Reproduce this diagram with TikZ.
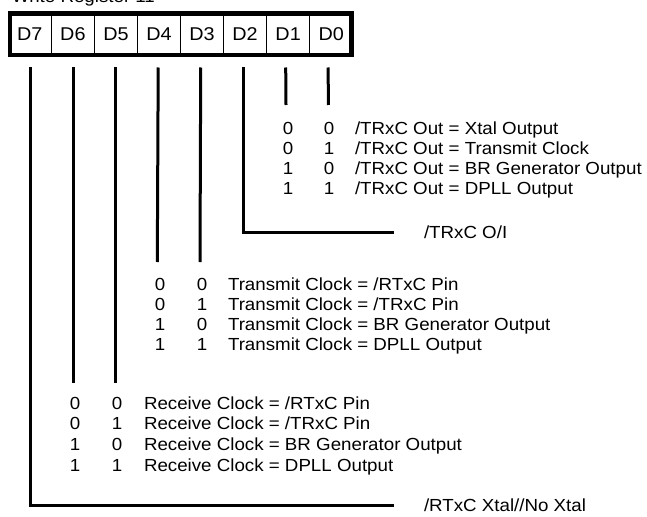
\documentclass[tikz,border=0pt]{standalone}
\usepackage{fontspec}
\setmainfont{Liberation Sans}[FakeStretch=1.07]
\begin{document}
\begin{tikzpicture}[x=1pt,y=-1pt,
  font=\fontsize{17.5}{20}\selectfont,
  every node/.style={inner sep=0pt, outer sep=0pt},
  cell/.style={draw, line width=1.6pt, minimum width=43.05pt, minimum height=45pt, font=\fontsize{18.5}{20}\selectfont},
  frame/.style={line width=4pt},
  lead/.style={line width=3pt},
  bit/.style={anchor=base},
  desc/.style={anchor=base west},
  lbl/.style={anchor=west}]
\useasboundingbox (0,0) rectangle (647,516);
\node[anchor=base west] (title) at (12,2.5) {Write Register 11};
% register cells
\foreach \n [count=\i from 0] in {7,6,5,4,3,2,1,0}
  \node[cell] (d\n) at ({29.825+43.05*\i},34.2) {D\n};
\draw[frame] ([shift={(2,2)}]d7.north west) rectangle ([shift={(-2,-2)}]d0.south east);
% tick tops
\foreach \n [count=\i from 0] in {7,6,5,4,3,2,1,0}
  \coordinate (top\n) at ({30.7+42.5*\i},67.5);
% ---- D1 D0 table
\coordinate (end1) at (286,105);
\coordinate (end0) at (328.3,105);
\draw[lead] (top1) -- (end1);
\draw[lead] (top0) -- (end0);
\node[bit] (a1) at (288,134.5) {0}; \node[bit] (b1) at (329,134.5) {0}; \node[desc] (c1) at (355,134.5) {/TRxC Out = Xtal Output};
\node[bit] (a2) at (288,154.5) {0}; \node[bit] (b2) at (329,154.5) {1}; \node[desc] (c2) at (355,154.5) {/TRxC Out = Transmit Clock};
\node[bit] (a3) at (288,174.5) {1}; \node[bit] (b3) at (329,174.5) {0}; \node[desc] (c3) at (355,174.5) {/TRxC Out = BR Generator Output};
\node[bit] (a4) at (288,194.5) {1}; \node[bit] (b4) at (329,194.5) {1}; \node[desc] (c4) at (355,194.5) {/TRxC Out = DPLL Output};
% ---- D2
\node[lbl] (oi) at (424,232.5) {/TRxC O/I};
\draw[lead] (top2) |- ([xshift=-30pt]oi.west);
% ---- D4 D3 table
\coordinate (end4) at (157.3,262);
\coordinate (end3) at (200,262);
\draw[lead] (top4) -- (end4);
\draw[lead] (top3) -- (end3);
\node[bit] (e1) at (160,290) {0}; \node[bit] (f1) at (202,290) {0}; \node[desc] (g1) at (228,290) {Transmit Clock = /RTxC Pin};
\node[bit] (e2) at (160,310) {0}; \node[bit] (f2) at (202,310) {1}; \node[desc] (g2) at (228,310) {Transmit Clock = /TRxC Pin};
\node[bit] (e3) at (160,330) {1}; \node[bit] (f3) at (202,330) {0}; \node[desc] (g3) at (228,330) {Transmit Clock = BR Generator Output};
\node[bit] (e4) at (160,350) {1}; \node[bit] (f4) at (202,350) {1}; \node[desc] (g4) at (228,350) {Transmit Clock = DPLL Output};
% ---- D6 D5 table
\coordinate (end6) at (73.2,383);
\coordinate (end5) at (115.7,383);
\draw[lead] (top6) -- (end6);
\draw[lead] (top5) -- (end5);
\node[bit] (h1) at (75,409) {0}; \node[bit] (k1) at (117,409) {0}; \node[desc] (m1) at (144,409) {Receive Clock = /RTxC Pin};
\node[bit] (h2) at (75,429.7) {0}; \node[bit] (k2) at (117,429.7) {1}; \node[desc] (m2) at (144,429.7) {Receive Clock = /TRxC Pin};
\node[bit] (h3) at (75,450.4) {1}; \node[bit] (k3) at (117,450.4) {0}; \node[desc] (m3) at (144,450.4) {Receive Clock = BR Generator Output};
\node[bit] (h4) at (75,471.1) {1}; \node[bit] (k4) at (117,471.1) {1}; \node[desc] (m4) at (144,471.1) {Receive Clock = DPLL Output};
% ---- D7
\node[lbl] (xtal) at (424,505.5) {/RTxC Xtal//No Xtal};
\draw[lead] (top7) |- ([xshift=-30pt]xtal.west);
\end{tikzpicture}
\end{document}
